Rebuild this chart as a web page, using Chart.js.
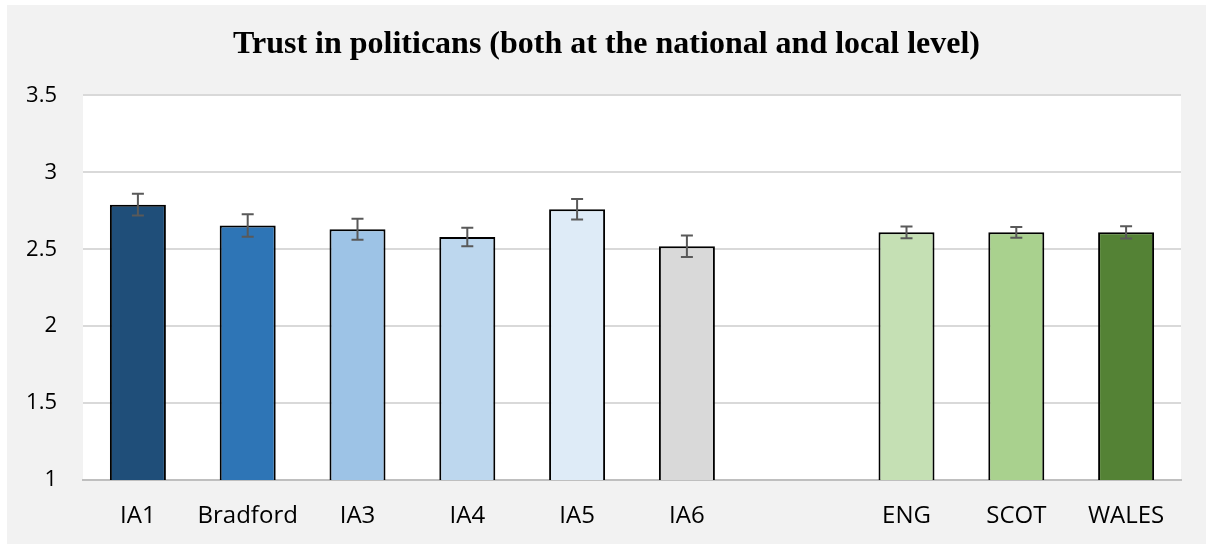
<!DOCTYPE html>
<html>
<head>
<meta charset="utf-8">
<title>Trust in politicans</title>
<script src="https://cdn.jsdelivr.net/npm/chart.js@4"></script>
<style>
  html, body { margin: 0; padding: 0; background: #ffffff; }
  #wrap {
    position: absolute;
    left: 7px;
    top: 5px;
    width: 1199px;
    height: 539px;
    background: #f2f2f2;
  }
</style>
</head>
<body>
<div id="wrap"><canvas id="chart"></canvas></div>
<script>
// Chart data
const categories = ["IA1", "Bradford", "IA3", "IA4", "IA5", "IA6", "", "ENG", "SCOT", "WALES"];
const means = [2.79, 2.655, 2.63, 2.58, 2.76, 2.52, null, 2.61, 2.61, 2.61];
const errors = [0.07, 0.073, 0.068, 0.06, 0.066, 0.07, null, 0.038, 0.035, 0.04];
const barColors = ["#1f4e79", "#2e75b6", "#9dc3e6", "#bdd7ee", "#deebf7", "#d9d9d9", "#ffffff", "#c5e0b4", "#a9d18e", "#548235"];
const yMin = 1;
const yMax = 3.5;
const yStep = 0.5;

const xFont = { family: "'Open Sans', sans-serif", size: 24 };
const yFont = { family: "'Open Sans', sans-serif", size: 22 };

// White plot area on the grey chart background
const plotAreaBg = {
  id: "plotAreaBg",
  beforeDraw(chart) {
    const { ctx, chartArea } = chart;
    ctx.save();
    ctx.fillStyle = "#ffffff";
    ctx.fillRect(chartArea.left, chartArea.top, chartArea.right - chartArea.left, chartArea.bottom - chartArea.top);
    ctx.restore();
  },
};

// Error bars drawn from the means/errors arrays through the y scale
const errorBars = {
  id: "errorBars",
  afterDatasetsDraw(chart) {
    const { ctx } = chart;
    const yScale = chart.scales.y;
    const meta = chart.getDatasetMeta(0);
    ctx.save();
    ctx.strokeStyle = "#595959";
    ctx.lineWidth = 2;
    meta.data.forEach((bar, i) => {
      if (means[i] === null || errors[i] === null) return;
      const x = bar.x;
      const top = yScale.getPixelForValue(means[i] + errors[i]);
      const bottom = yScale.getPixelForValue(means[i] - errors[i]);
      const cap = 6;
      ctx.beginPath();
      ctx.moveTo(x, top);
      ctx.lineTo(x, bottom);
      ctx.moveTo(x - cap, top);
      ctx.lineTo(x + cap, top);
      ctx.moveTo(x - cap, bottom);
      ctx.lineTo(x + cap, bottom);
      ctx.stroke();
    });
    ctx.restore();
  },
};

const ctx = document.getElementById("chart");

new Chart(ctx, {
  type: "bar",
  data: {
    labels: categories,
    datasets: [
      {
        data: means,
        backgroundColor: barColors,
        borderColor: "#000000",
        borderWidth: 2,
        borderSkipped: "bottom",
        barPercentage: 0.51,
        categoryPercentage: 1,
      },
    ],
  },
  options: {
    responsive: true,
    maintainAspectRatio: false,
    animation: false,
    layout: {
      padding: 0,
    },
    plugins: {
      legend: { display: false },
      tooltip: { enabled: false },
      title: {
        display: true,
        text: "Trust in politicans (both at the national and local level)",
        color: "#000000",
        font: { family: "'Liberation Serif', 'Times New Roman', serif", size: 32, weight: "bold" },
        padding: { top: 21, bottom: 31 },
      },
    },
    scales: {
      x: {
        grid: { display: false, drawTicks: false },
        border: { display: true, color: "#bfbfbf", width: 2 },
        ticks: {
          color: "#000000",
          font: xFont,
          padding: 22,
          maxRotation: 0,
          autoSkip: false,
        },
        afterFit(scale) {
          scale.height = 64;
        },
      },
      y: {
        min: yMin,
        max: yMax,
        ticks: {
          stepSize: yStep,
          color: "#000000",
          font: yFont,
          padding: 26,
          callback: (value) => String(value),
        },
        grid: { color: "#d9d9d9", lineWidth: 2, drawTicks: false },
        border: { display: false },
        afterFit(scale) {
          scale.width = 76;
        },
      },
      // empty right margin, keeps the title centred on the whole panel
      yRight: {
        position: "right",
        grid: { display: false, drawTicks: false },
        border: { display: false },
        ticks: { display: false },
        afterFit(scale) {
          scale.width = 25;
        },
      },
    },
  },
  plugins: [plotAreaBg, errorBars],
});
</script>
</body>
</html>
